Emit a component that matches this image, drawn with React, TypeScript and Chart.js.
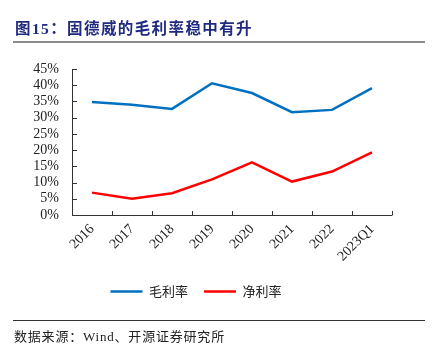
import React, { useEffect, useRef } from "react";
import { Chart, registerables } from "chart.js";

Chart.register(...registerables);

const categories = ["2016", "2017", "2018", "2019", "2020", "2021", "2022", "2023Q1"];
const grossMargin = [34.8, 34.0, 32.7, 40.6, 37.6, 31.7, 32.4, 39.1];
const netMargin = [6.9, 5.0, 6.7, 11.0, 16.2, 10.3, 13.4, 19.3];
const seriesNames = ["毛利率", "净利率"];
const yTicks = [0, 5, 10, 15, 20, 25, 30, 35, 40, 45];

const AXIS = "#333333";

const inwardTicks = {
  id: "inwardTicks",
  afterDraw(chart: any) {
    const { ctx, chartArea, scales } = chart;
    const x = scales.x;
    const y = scales.y;
    ctx.save();
    ctx.strokeStyle = AXIS;
    ctx.lineWidth = 1;
    ctx.beginPath();
    ctx.moveTo(chartArea.left + 0.5, y.getPixelForValue(45));
    ctx.lineTo(chartArea.left + 0.5, chartArea.bottom + 0.5);
    ctx.lineTo(chartArea.right + 0.5, chartArea.bottom + 0.5);
    for (const v of yTicks) {
      const py = Math.round(y.getPixelForValue(v)) + 0.5;
      ctx.moveTo(chartArea.left, py);
      ctx.lineTo(chartArea.left + 5, py);
    }
    const n = categories.length;
    for (let i = 0; i <= n; i++) {
      const px = Math.round(x.getPixelForValue(i - 0.5)) + 0.5;
      ctx.moveTo(px, chartArea.bottom);
      ctx.lineTo(px, chartArea.bottom - 4);
    }
    ctx.stroke();
    ctx.restore();
  },
};

export default function App() {
  const ref = useRef<HTMLCanvasElement>(null);
  useEffect(() => {
    document.body.style.margin = "0";
    const chart = new Chart(ref.current!, {
      type: "line",
      data: {
        labels: categories,
        datasets: [
          {
            label: seriesNames[0],
            data: grossMargin,
            borderColor: "#0070C0",
            backgroundColor: "#0070C0",
            borderWidth: 2.5,
            pointRadius: 0,
            tension: 0,
          },
          {
            label: seriesNames[1],
            data: netMargin,
            borderColor: "#FF0000",
            backgroundColor: "#FF0000",
            borderWidth: 2.5,
            pointRadius: 0,
            tension: 0,
          },
        ],
      },
      options: {
        animation: false,
        responsive: false,
        layout: { padding: { top: 69, left: 0, right: 44, bottom: 43 } },
        plugins: {
          legend: {
            position: "bottom",
            labels: {
              usePointStyle: true,
              pointStyle: "line",
              pointStyleWidth: 32,
              padding: 16,
              color: "#222",
              font: { family: "'Noto Sans CJK SC'", size: 13 },
            },
          },
          tooltip: { enabled: false },
        },
        scales: {
          x: {
            offset: true,
            grid: { display: false, drawTicks: false },
            border: { display: false },
            ticks: {
              autoSkip: false,
              minRotation: 45,
              maxRotation: 45,
              padding: 6,
              color: "#222",
              font: { family: "'Liberation Serif'", size: 14 },
            },
            afterFit(scale: any) {
              scale.height = 54;
            },
          },
          y: {
            min: 0,
            max: 45,
            grid: { display: false, drawTicks: false },
            border: { display: false },
            ticks: {
              autoSkip: false,
              stepSize: 5,
              padding: 13,
              color: "#222",
              font: { family: "'Liberation Serif'", size: 14 },
              callback: (v: any) => v + "%",
            },
            afterFit(scale: any) {
              scale.width = 72;
            },
          },
        },
      },
      plugins: [inwardTicks],
    });
    return () => chart.destroy();
  }, []);

  return (
    <div style={{ position: "relative", width: 436, height: 351, background: "#fff" }}>
      <canvas ref={ref} width={436} height={351} style={{ position: "absolute", left: 0, top: 0 }} />
      <div
        style={{
          position: "absolute",
          left: 15,
          top: 16,
          fontFamily: "'Liberation Serif', 'Noto Sans CJK SC'",
          fontWeight: "bold",
          fontSize: 15.5,
          letterSpacing: 1.4,
          color: "#1F2A80",
          whiteSpace: "nowrap",
        }}
      >
        图15：固德威的毛利率稳中有升
      </div>
      <div style={{ position: "absolute", left: 13, top: 41, width: 412, height: 2, background: "#8a8a8a" }} />
      <div style={{ position: "absolute", left: 13, top: 320, width: 412, height: 1, background: "#333" }} />
      <div
        style={{
          position: "absolute",
          left: 14,
          top: 326,
          fontFamily: "'Liberation Serif', 'Noto Sans CJK SC'",
          fontSize: 13,
          letterSpacing: 0.8,
          color: "#222",
          whiteSpace: "nowrap",
        }}
      >
        数据来源：Wind、开源证券研究所
      </div>
    </div>
  );
}
